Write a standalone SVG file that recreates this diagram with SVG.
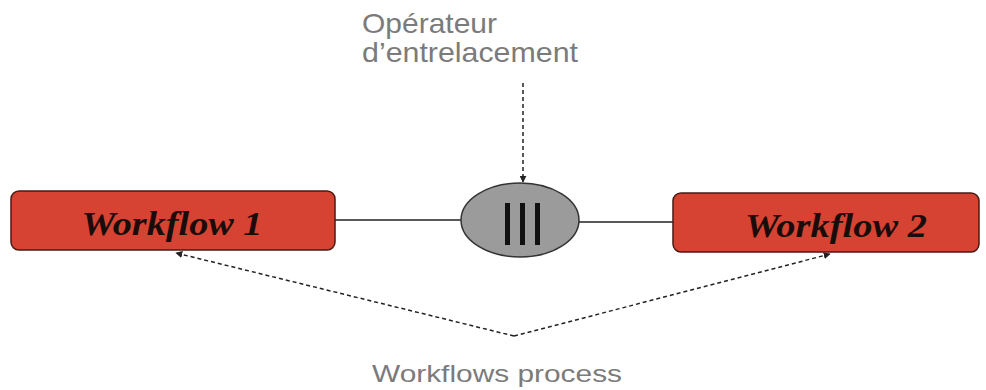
<svg xmlns="http://www.w3.org/2000/svg" width="986" height="390" viewBox="0 0 986 390">
<style>
.box{fill:#d64332;stroke:#4a1a12;stroke-width:1.5}
.wf{font-family:"Liberation Serif","Times New Roman",serif;font-weight:bold;font-style:italic;font-size:33px;fill:#1a0c0a}
.lbl{font-family:"Liberation Sans",Arial,sans-serif;fill:#7b7b7b}
.solid{stroke:#222;stroke-width:1.5;fill:none}
.dash{stroke:#222;stroke-width:1.5;fill:none;stroke-dasharray:4 3}
</style>
<defs>
<marker id="ah" viewBox="0 0 10 10" refX="9" refY="5" markerWidth="7" markerHeight="7" orient="auto" markerUnits="userSpaceOnUse">
<path d="M0,0 L10,5 L0,10 Z" fill="#222"/>
</marker>
</defs>
<rect width="986" height="390" fill="#fff"/>
<g id="connectors">
<line class="solid" x1="335" y1="220" x2="461" y2="220"/>
<line class="solid" x1="579" y1="222" x2="673" y2="222"/>
<line class="dash" x1="523" y1="83" x2="523" y2="182" marker-end="url(#ah)"/>
<polyline class="dash" points="514,336 176,253" marker-end="url(#ah)"/>
<polyline class="dash" points="514,336 830,254" marker-end="url(#ah)"/>
</g>
<g id="workflow1">
<rect class="box" x="11" y="191" width="324" height="59" rx="8"/>
<text class="wf" x="172" y="235" text-anchor="middle" textLength="181" lengthAdjust="spacingAndGlyphs">Workflow 1</text>
</g>
<g id="workflow2">
<rect class="box" x="673" y="193" width="306" height="59" rx="8"/>
<text class="wf" x="836" y="237" text-anchor="middle" textLength="182" lengthAdjust="spacingAndGlyphs">Workflow 2</text>
</g>
<g id="operator">
<ellipse cx="520" cy="220" rx="59" ry="37" fill="#9b9b9b" stroke="#333" stroke-width="1.5"/>
<rect x="505" y="203" width="5" height="42" fill="#111"/>
<rect x="520" y="203" width="5" height="42" fill="#111"/>
<rect x="535" y="203" width="5" height="42" fill="#111"/>
</g>
<g id="label-operator">
<text class="lbl" x="362" y="33" font-size="28" textLength="135" lengthAdjust="spacingAndGlyphs">Opérateur</text>
<text class="lbl" x="362" y="62" font-size="28" textLength="216" lengthAdjust="spacingAndGlyphs">d’entrelacement</text>
</g>
<g id="label-process">
<text class="lbl" x="372" y="382" font-size="24" textLength="250" lengthAdjust="spacingAndGlyphs">Workflows process</text>
</g>
</svg>
